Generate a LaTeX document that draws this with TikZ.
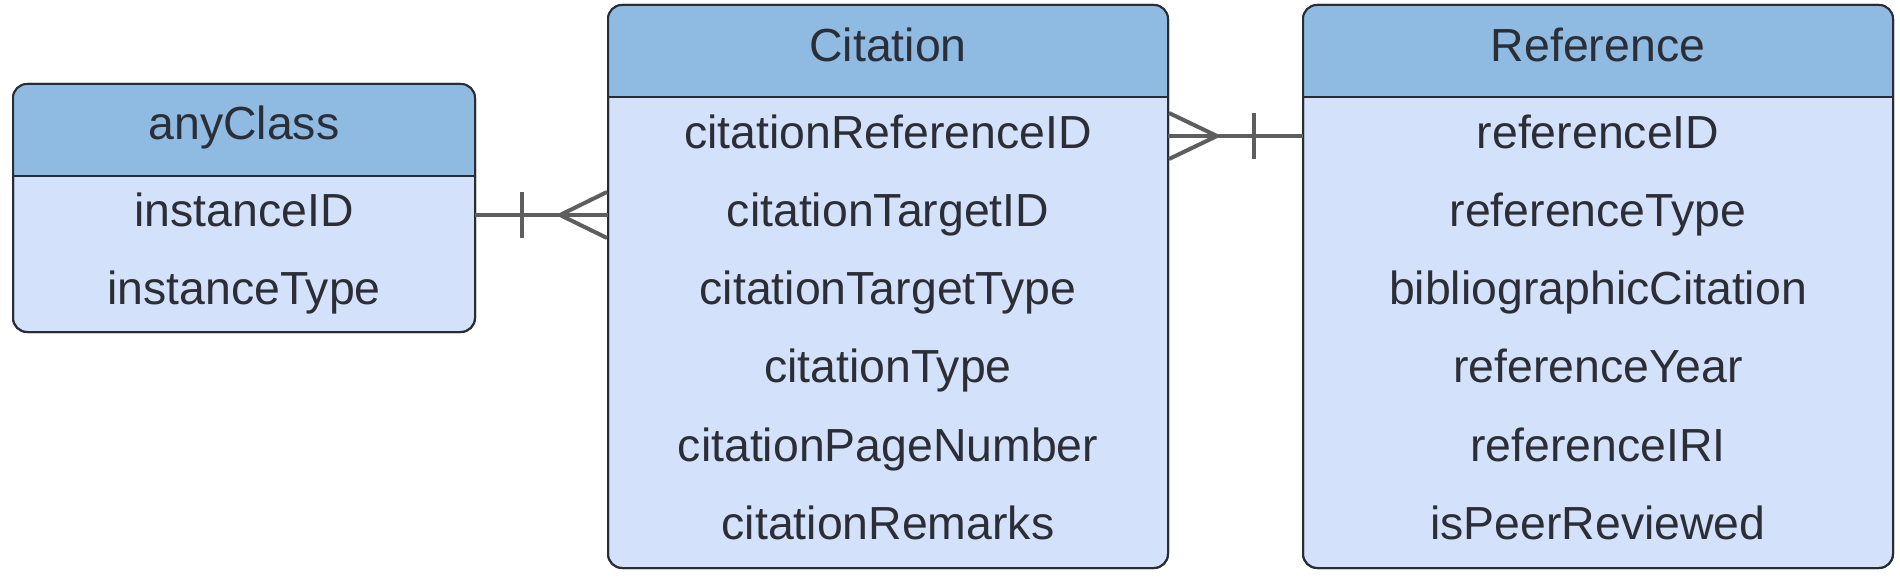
\documentclass[tikz,border=0pt]{standalone}
\usepackage{fontspec}
\setmainfont{Liberation Sans}
\definecolor{hdr}{RGB}{143,186,226}
\definecolor{bodyc}{RGB}{211,226,250}
\definecolor{bordc}{RGB}{40,44,52}
\definecolor{txt}{RGB}{43,46,54}
\definecolor{connc}{RGB}{94,94,94}
\newcommand\erbox[6]{%
  \node[entity, minimum width=#4pt, minimum height=#5pt] (#1) at (#2,#3) {};
  \begin{scope}
    \clip ([shift={(-3,-3)}]#1.north west) rectangle (#1.east |- 0,#6);
    \fill[hdr, rounded corners=14pt] (#1.north west) rectangle (#1.south east);
  \end{scope}
  \draw[bordc, line width=2pt] (#1.west |- 0,#6) -- (#1.east |- 0,#6);
  \draw[bordc, line width=2pt, rounded corners=14pt] (#1.north west) rectangle (#1.south east);
}
\begin{document}
\begin{tikzpicture}[x=1pt,y=-1pt,
  entity/.style={draw=bordc, line width=2pt, fill=bodyc, rounded corners=14pt, inner sep=0pt, outer sep=0pt},
  lbl/.style={text=txt, font=\fontsize{46.4}{50}\selectfont, anchor=base, inner sep=0pt},
  rel/.style={draw=connc, line width=4pt}]
\useasboundingbox (0,0) rectangle (1900,580);

% entities
\erbox{any}{244}{208}{462}{248}{176}
\erbox{cit}{888}{286.5}{560}{563}{97}
\erbox{ref}{1598}{286.5}{590}{563}{97}

% anyClass
\node[lbl] (anyh) at (244,140) {anyClass};
\node[lbl] (any1) at (244,226.5) {instanceID};
\node[lbl] (any2) at (244,304.5) {instanceType};

% Citation
\node[lbl] (cith) at (888,62) {Citation};
\node[lbl] (cit1) at (888,148.5) {citationReferenceID};
\node[lbl] (cit2) at (888,226.5) {citationTargetID};
\node[lbl] (cit3) at (888,304.5) {citationTargetType};
\node[lbl] (cit4) at (888,382.5) {citationType};
\node[lbl] (cit5) at (888,461) {citationPageNumber};
\node[lbl] (cit6) at (888,539.5) {citationRemarks};

% Reference
\node[lbl] (refh) at (1598,62) {Reference};
\node[lbl] (ref1) at (1598,148.5) {referenceID};
\node[lbl] (ref2) at (1598,226.5) {referenceType};
\node[lbl] (ref3) at (1598,304.5) {bibliographicCitation};
\node[lbl] (ref4) at (1598,382.5) {referenceYear};
\node[lbl] (ref5) at (1598,461) {referenceIRI};
\node[lbl] (ref6) at (1598,539.5) {isPeerReviewed};

% connector anyClass -- Citation
\coordinate (c1a) at (any.east |- 0,215);
\coordinate (c1b) at (cit.west |- 0,215);
\draw[rel] (c1a) -- (c1b);
\draw[rel] ([shift={(47,-23)}]c1a) -- ([shift={(47,23)}]c1a);
\draw[rel] ([shift={(-1,-23)}]c1b) -- ([shift={(-48,0)}]c1b) -- ([shift={(-1,23)}]c1b);

% connector Citation -- Reference
\coordinate (c2a) at (cit.east |- 0,136);
\coordinate (c2b) at (ref.west |- 0,136);
\draw[rel] (c2a) -- (c2b);
\draw[rel] ([shift={(1,-23)}]c2a) -- ([shift={(49,0)}]c2a) -- ([shift={(1,23)}]c2a);
\draw[rel] ([shift={(-49,-23)}]c2b) -- ([shift={(-49,23)}]c2b);
\end{tikzpicture}
\end{document}
